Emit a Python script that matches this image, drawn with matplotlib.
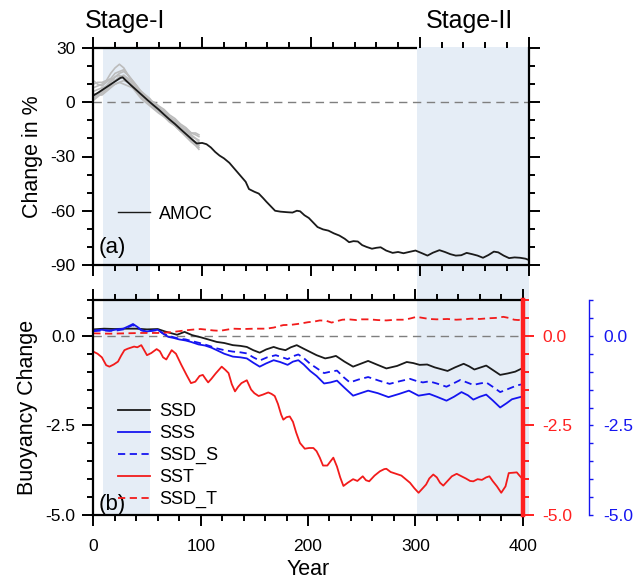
import matplotlib
matplotlib.use('Agg')
import matplotlib.pyplot as plt
import matplotlib.transforms as mtransforms
from matplotlib.patches import Rectangle
from matplotlib.lines import Line2D
from matplotlib.ticker import MultipleLocator, FormatStrFormatter

plt.rcParams['font.family'] = ['Liberation Sans', 'DejaVu Sans']
plt.rcParams['axes.unicode_minus'] = False

# ---- data ----
amoc_year = [0, 5, 10, 15, 20, 25, 27, 30, 35, 40, 45, 50, 55, 60, 65, 70, 75, 80, 85, 90, 95,
             100, 104, 108, 112, 116, 120, 125, 130, 135, 140, 143, 148, 152, 156, 159, 163, 167,
             172, 178, 183, 187, 190, 194, 198, 202, 206, 211, 216, 221, 226, 231, 235, 239, 243,
             247, 251, 256, 260, 264, 269, 275, 280, 285, 290, 296, 302, 307, 312, 318, 323, 328,
             333, 338, 343, 348, 353, 358, 363, 368, 372, 377, 382, 387, 392, 397, 400]
amoc = [3.7, 5.5, 7.5, 9.5, 11.5, 13.5, 13.8, 12.0, 9.2, 6.5, 3.8, 1.1, -1.5, -4.0, -6.8, -9.5,
        -12.0, -14.8, -17.5, -20.2, -22.8, -22.5, -23.2, -25.0, -27.5, -29.5, -31.0, -33.5, -37.0,
        -40.5, -44.0, -48.0, -49.5, -50.5, -53.0, -55.0, -57.5, -60.0, -60.5, -60.8, -61.0, -60.0,
        -60.3, -62.5, -64.0, -66.5, -69.0, -70.3, -71.0, -72.5, -73.7, -75.5, -77.4, -76.8, -77.0,
        -79.0, -80.0, -81.0, -80.5, -80.2, -82.0, -83.3, -82.8, -83.5, -82.8, -82.0, -83.5, -84.8,
        -83.2, -81.8, -82.8, -84.0, -84.8, -84.6, -83.3, -84.0, -84.8, -86.0, -84.5, -82.6, -83.0,
        -84.8, -86.2, -85.8, -86.0, -86.5, -87.2]

# ensemble members (first ~100 years)
ens_year = [0, 4, 8, 12, 16, 20, 24, 28, 32, 36, 40, 44, 48, 52, 56, 60, 65, 70, 75, 80, 85, 90, 94, 97]
ens = [
    [8, 9, 10, 12, 16, 19, 21, 19, 15, 12, 9, 5, 2, 0, -2, -4, -7, -9, -11, -14, -16, -19, -20, -21],
    [12, 10, 9, 11, 13, 16, 17, 18, 15, 11, 8, 6, 3, 1, -1, -3, -5, -8, -10, -13, -15, -17, -17, -18],
    [2, 4, 6, 8, 10, 12, 14, 15, 13, 10, 7, 4, 1, -1, -3, -5, -8, -11, -13, -16, -19, -22, -24, -26],
    [5, 4, 4, 6, 8, 10, 11, 10, 9, 8, 6, 3, 1, 0, -1, -3, -6, -9, -12, -15, -17, -20, -22, -24],
    [3, 5, 7, 9, 12, 14, 15, 13, 11, 9, 7, 5, 3, 1, 0, -2, -4, -7, -9, -12, -14, -17, -18, -19],
    [10, 11, 11, 12, 13, 12, 13, 14, 12, 8, 5, 2, 0, -2, -4, -6, -8, -10, -12, -15, -18, -21, -23, -25],
    [6, 7, 8, 9, 11, 14, 16, 17, 15, 12, 9, 6, 4, 2, -1, -4, -6, -9, -11, -13, -15, -18, -20, -22],
    [1, 3, 5, 7, 9, 10, 11, 12, 11, 9, 7, 4, 2, -1, -3, -5, -7, -10, -13, -16, -18, -21, -22, -23],
]

ssd_year = [0, 10, 20, 30, 40, 50, 60, 67, 73, 78, 85, 92, 100, 107, 115, 122, 130, 137, 143, 149,
            155, 161, 168, 173, 179, 184, 189.5, 196, 202, 208, 216, 221, 226, 234, 242, 249, 256,
            264, 273, 283, 292, 298, 304, 311, 318, 324, 330, 337, 345, 350, 355, 361, 366, 372,
            379, 386, 393, 400]
ssd = [0.18, 0.2, 0.19, 0.2, 0.2, 0.18, 0.19, 0.12, 0.07, 0.03, 0.11, 0.02, -0.04, -0.1, -0.17,
       -0.2, -0.26, -0.28, -0.31, -0.4, -0.47, -0.38, -0.31, -0.36, -0.4, -0.32, -0.26, -0.36,
       -0.45, -0.54, -0.63, -0.6, -0.56, -0.72, -0.86, -0.78, -0.7, -0.8, -0.91, -0.84, -0.73,
       -0.76, -0.81, -0.8, -0.88, -0.93, -0.98, -0.88, -0.78, -0.85, -0.94, -0.88, -0.83, -0.95,
       -1.09, -1.05, -1.0, -0.9]

sss_year = [0, 8, 15, 22, 28, 33, 37, 41, 45, 50, 55, 60, 65, 70, 75, 80, 86, 91, 98, 104, 110,
            115, 122, 130, 137, 143, 149, 155, 161, 168, 174, 181, 186, 191, 196, 202, 208, 215,
            221, 227, 234, 242, 249, 256, 265, 275, 285, 294, 303, 313, 320, 329, 336, 343, 349,
            354, 360, 366, 372, 379, 385, 390, 395, 400]
sss = [0.15, 0.17, 0.14, 0.18, 0.2, 0.27, 0.33, 0.25, 0.16, 0.12, 0.15, 0.17, 0.06, -0.03, -0.06,
       -0.1, -0.13, -0.17, -0.24, -0.27, -0.33, -0.4, -0.5, -0.58, -0.6, -0.63, -0.75, -0.86,
       -0.77, -0.68, -0.73, -0.81, -0.72, -0.68, -0.8, -0.98, -1.12, -1.33, -1.3, -1.25, -1.45,
       -1.67, -1.6, -1.53, -1.6, -1.71, -1.62, -1.53, -1.67, -1.62, -1.7, -1.81, -1.7, -1.57,
       -1.66, -1.78, -1.7, -1.64, -1.8, -2.0, -1.88, -1.77, -1.73, -1.69]

ssd_s_year = [0, 10, 20, 28, 33, 37, 41, 45, 50, 55, 60, 65, 70, 75, 80, 86, 91, 99, 107, 115,
              122, 130, 137, 143, 149, 155, 162, 170, 176, 181, 186, 191, 196, 202, 208, 215, 221,
              227, 233, 239, 247, 256, 266, 276, 285, 295, 301, 307, 313, 320, 329, 336, 342, 348,
              354, 360, 366, 372, 379, 385, 390, 395, 400]
ssd_s = [0.13, 0.15, 0.14, 0.18, 0.25, 0.3, 0.23, 0.15, 0.12, 0.14, 0.16, 0.07, 0.0, -0.04, -0.08,
         -0.1, -0.14, -0.2, -0.27, -0.35, -0.4, -0.44, -0.46, -0.49, -0.6, -0.69, -0.6, -0.54,
         -0.6, -0.65, -0.57, -0.52, -0.62, -0.78, -0.9, -1.04, -1.0, -0.97, -1.15, -1.3, -1.22,
         -1.15, -1.25, -1.34, -1.27, -1.2, -1.26, -1.3, -1.27, -1.33, -1.42, -1.32, -1.23, -1.3,
         -1.37, -1.33, -1.3, -1.42, -1.57, -1.5, -1.44, -1.38, -1.35]

sst_year = [0, 4, 8, 12, 15, 19, 23, 26, 29, 32, 35, 38, 41, 44.7, 47, 50, 54, 59, 62, 65, 68, 73,
            77, 82, 87, 91, 95, 99, 102, 105, 107, 110, 114, 119.6, 123, 126, 129, 132, 135, 138,
            143, 147, 150, 154, 158, 163, 166, 169, 172, 175, 177, 180, 183, 186, 189, 192.5, 197,
            201, 205, 208, 211, 214, 218, 221, 223.6, 227, 230, 233, 237, 242, 246, 251, 254, 257,
            262, 267, 271, 273, 277, 282, 287, 291, 295, 299, 303, 307, 310, 313, 316.7, 320, 323,
            326, 330, 334, 338.5, 343, 347, 351, 354, 358, 362, 366, 369, 372, 376, 380, 384, 387,
            391, 394.5, 397, 400]
sst = [-0.44, -0.5, -0.6, -0.82, -0.86, -0.8, -0.72, -0.55, -0.4, -0.36, -0.33, -0.3, -0.32, -0.26,
       -0.38, -0.54, -0.48, -0.37, -0.43, -0.6, -0.66, -0.4, -0.5, -0.81, -1.1, -1.32, -1.28,
       -1.12, -1.09, -1.22, -1.3, -1.2, -1.05, -0.86, -0.95, -1.04, -1.35, -1.55, -1.42, -1.32,
       -1.24, -1.5, -1.6, -1.68, -1.64, -1.58, -1.62, -1.68, -1.9, -2.2, -2.34, -2.27, -2.25,
       -2.4, -2.7, -2.99, -3.15, -3.13, -3.13, -3.22, -3.4, -3.62, -3.62, -3.5, -3.4, -3.65,
       -3.95, -4.19, -4.1, -4.0, -4.05, -3.92, -4.03, -4.06, -3.9, -3.78, -3.72, -3.71, -3.8,
       -3.85, -3.9, -4.0, -4.1, -4.25, -4.38, -4.25, -4.15, -3.98, -3.87, -3.95, -4.1, -4.18,
       -4.05, -3.92, -3.85, -3.92, -3.98, -4.05, -4.06, -4.0, -4.02, -3.95, -3.92, -4.05, -4.2,
       -4.38, -4.2, -3.83, -3.82, -3.81, -3.9, -4.0]

ssd_t_year = [0, 15, 30, 45, 60, 72, 80, 88, 95, 100, 106, 112, 118, 124, 130, 140, 150, 161, 168,
              173, 177, 185, 192.5, 200, 206, 211, 217, 222, 227, 232, 238, 245, 250, 257, 265,
              273, 282, 290, 296, 301, 307, 313, 320, 330, 338, 345, 352, 360, 368, 375, 382, 387,
              392, 396, 400]
ssd_t = [0.07, 0.06, 0.07, 0.08, 0.08, 0.1, 0.13, 0.16, 0.18, 0.19, 0.17, 0.15, 0.14, 0.17, 0.2,
         0.19, 0.2, 0.2, 0.23, 0.27, 0.3, 0.31, 0.34, 0.38, 0.4, 0.43, 0.42, 0.37, 0.41, 0.45,
         0.46, 0.44, 0.46, 0.46, 0.44, 0.43, 0.45, 0.45, 0.49, 0.53, 0.5, 0.47, 0.46, 0.47, 0.45,
         0.46, 0.48, 0.47, 0.49, 0.5, 0.53, 0.5, 0.45, 0.44, 0.47]

stages = [(9, 52), (297, 400)]

# ---- figure ----
W, H = 636, 581
fig = plt.figure(figsize=(W / 100, H / 100), dpi=100)
ax1 = fig.add_axes([93.3 / W, 1 - 265 / H, 435.4 / W, 217 / H])
ax2 = fig.add_axes([93.3 / W, 1 - 515 / H, 429.4 / W, 215 / H])
for ax in (ax1, ax2):
    ax.patch.set_visible(False)

# shaded stages, spanning both panels
trans = mtransforms.blended_transform_factory(ax1.transData, fig.transFigure)
y0, y1 = 1 - 515 / H, 1 - 47 / H
for a, b in stages:
    fig.add_artist(Rectangle((a, y0), b - a, y1 - y0, transform=trans,
                             facecolor='#e5edf6', edgecolor='none', zorder=-1))

TICK = 12.5
LAB = 15.5

# ---- panel (a) ----
ax1.axhline(0, color='#7f7f7f', lw=1.0, dashes=(6, 4))
for m in ens:
    ax1.plot(ens_year, m, color='#bcbcbc', lw=1.2)
ax1.plot(amoc_year, amoc, color='#1a1a1a', lw=1.3)
ax1.set_xlim(0, 400)
ax1.set_ylim(-90, 30)
ax1.set_yticks([30, 0, -30, -60, -90])
ax1.yaxis.set_minor_locator(MultipleLocator(10))
ax1.xaxis.set_major_locator(MultipleLocator(100))
ax1.xaxis.set_minor_locator(MultipleLocator(20))
ax1.tick_params(which='both', direction='out', top=True, right=True, labelbottom=False,
                labelsize=TICK, width=1.4, pad=5)
ax1.tick_params(which='major', length=8)
ax1.tick_params(which='minor', length=4)
ax1.set_ylabel('Change in %', fontsize=LAB, labelpad=5)
ax1.legend(handles=[Line2D([], [], color='#1a1a1a', lw=1.0)], labels=['AMOC'],
           loc='lower left', bbox_to_anchor=(0.02, 0.12), frameon=False,
           fontsize=13, handlelength=1.75, handletextpad=0.5)
ax1.text(0.012, 0.03, '(a)', transform=ax1.transAxes, fontsize=16, ha='left', va='bottom')

# ---- panel (b) ----
ax2.axhline(0, color='#7f7f7f', lw=1.0, dashes=(6, 4))
l_ssd, = ax2.plot(ssd_year, ssd, color='#1a1a1a', lw=1.3)
l_sss, = ax2.plot(sss_year, sss, color='#1515f0', lw=1.3)
l_ssds, = ax2.plot(ssd_s_year, ssd_s, color='#1515f0', lw=1.3, dashes=(4, 2.5))
l_sst, = ax2.plot(sst_year, sst, color='#f21b1b', lw=1.3)
l_ssdt, = ax2.plot(ssd_t_year, ssd_t, color='#f21b1b', lw=1.3, dashes=(4, 2.5))
ax2.set_xlim(0, 400)
ax2.set_ylim(-5, 1)
ax2.set_yticks([0, -2.5, -5])
ax2.yaxis.set_major_formatter(FormatStrFormatter('%.1f'))
ax2.yaxis.set_minor_locator(MultipleLocator(0.5))
ax2.xaxis.set_major_locator(MultipleLocator(100))
ax2.xaxis.set_minor_locator(MultipleLocator(20))
ax2.tick_params(which='both', direction='out', top=True, right=False, labelsize=TICK,
                width=1.4, pad=5)
ax2.tick_params(axis='x', pad=9)
ax2.tick_params(which='major', length=8)
ax2.tick_params(which='minor', length=4)
ax2.spines['right'].set_visible(False)
ax2.set_ylabel('Buoyancy Change', fontsize=LAB, labelpad=5)
ax2.set_xlabel('Year', fontsize=LAB, labelpad=4)
ax2.legend([l_ssd, l_sss, l_ssds, l_sst, l_ssdt], ['SSD', 'SSS', 'SSD_S', 'SST', 'SSD_T'],
           loc='lower left', bbox_to_anchor=(0.02, -0.045), frameon=False, fontsize=13,
           handlelength=1.75, handletextpad=0.5, labelspacing=0.28)
ax2.text(0.012, 0.0, '(b)', transform=ax2.transAxes, fontsize=16, ha='left', va='bottom')

for ax in (ax1, ax2):
    for s in ax.spines.values():
        s.set_linewidth(1.6)

# top spine of (a) is hidden under the Stage-II shading
ax1.spines['top'].set_visible(False)
ax1.plot([0, stages[1][0]], [1, 1], transform=mtransforms.blended_transform_factory(
    ax1.transData, ax1.transAxes), color='black', lw=1.6, clip_on=False,
    solid_capstyle='butt')

# red right axis
ax3 = ax2.twinx()
ax3.set_ylim(-5, 1)
ax3.set_yticks([0, -2.5, -5])
ax3.yaxis.set_major_formatter(FormatStrFormatter('%.1f'))
ax3.yaxis.set_minor_locator(MultipleLocator(0.5))
for side in ('left', 'top', 'bottom'):
    ax3.spines[side].set_visible(False)
ax3.spines['right'].set_color('#ff2020')
ax3.spines['right'].set_linewidth(3.2)
ax3.tick_params(which='both', direction='out', colors='#ff2020', labelsize=TICK, width=1.4, pad=6)
ax3.tick_params(which='major', length=8)
ax3.tick_params(which='minor', length=4)

# blue right axis
ax4 = ax2.twinx()
ax4.set_ylim(-5, 1)
ax4.set_yticks([0, -2.5, -5])
ax4.yaxis.set_major_formatter(FormatStrFormatter('%.1f'))
ax4.yaxis.set_minor_locator(MultipleLocator(0.5))
for side in ('left', 'top', 'bottom'):
    ax4.spines[side].set_visible(False)
ax4.spines['right'].set_position(('axes', (589 - 93.3) / 429.4))
ax4.spines['right'].set_color('#1515f0')
ax4.spines['right'].set_linewidth(1.0)
ax4.tick_params(which='both', direction='out', colors='#1515f0', labelsize=TICK, width=1.0,
                length=3, pad=7)

fig.text(125 / W, 1 - 21 / H, 'Stage-I', ha='center', va='center', fontsize=18)
fig.text(469 / W, 1 - 21 / H, 'Stage-II', ha='center', va='center', fontsize=18)

fig.savefig('out.png', dpi=100)
